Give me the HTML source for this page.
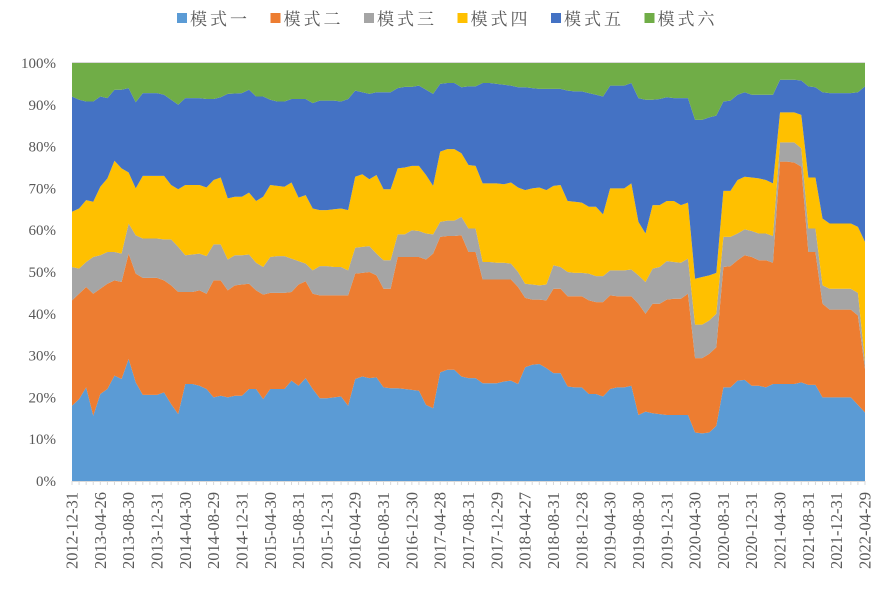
<!DOCTYPE html>
<html><head><meta charset="utf-8">
<style>
html,body{margin:0;padding:0;background:#fff;}
svg text{font-family:"Liberation Serif","Noto Serif CJK SC",serif;fill:#595959;}
</style></head>
<body>
<svg id="chart" width="879" height="588" viewBox="0 0 879 588" xmlns="http://www.w3.org/2000/svg">
<g id="legend"></g>
<g id="areas"></g>
<g id="axes"></g>
</svg>
<script>
const seriesNames = ["模式一","模式二","模式三","模式四","模式五","模式六"];
const seriesColors = ["#5B9BD5","#ED7D31","#A5A5A5","#FFC000","#4472C4","#70AD47"];
const tickLabels = ["2012-12-31","2013-04-26","2013-08-30","2013-12-31","2014-04-30","2014-08-29","2014-12-31","2015-04-30","2015-08-31","2015-12-31","2016-04-29","2016-08-31","2016-12-30","2017-04-28","2017-08-31","2017-12-29","2018-04-27","2018-08-31","2018-12-28","2019-04-30","2019-08-30","2019-12-31","2020-04-30","2020-08-31","2020-12-31","2021-04-30","2021-08-31","2021-12-31","2022-04-29"];
const yTicks = ["0%","10%","20%","30%","40%","50%","60%","70%","80%","90%","100%"];
const mode1 = [18,19.6,22.4,15.6,20.8,22,25.2,24.4,29.2,23.6,20.6,20.6,20.6,21.2,18.4,16,23.2,23.2,22.8,22,20,20.4,20,20.4,20.4,22,22,19.6,22,22,22,24,22.8,24.6,22,19.8,19.8,20,20.2,
18,24.4,25,24.6,24.8,22.4,22.2,22.2,22,21.8,21.6,18.2,17.4,26,26.6,26.6,25,24.6,24.6,23.4,23.4,23.4,23.8,24,23.2,27.2,27.8,28,27,25.8,25.8,22.6,22.4,22.4,20.8,20.8,20.2,22,
22.4,22.4,22.8,15.8,16.6,16.2,16,15.8,15.8,15.8,15.8,11.6,11.4,11.6,13.2,22.4,22.4,24,24.2,22.8,22.8,22.4,23.2,23.2,23.2,23.2,23.6,23,23,20,20,20,20,20,18.2,16.4];
const mode2 = [25.2,25.2,24,29.2,25.2,25.2,22.8,23.2,25.2,26,28,28,28,26.8,28.4,29.2,22,22,22.8,22.8,28,27.6,25.6,26.4,26.6,25.2,23.6,25,23,23,23,21.2,24.2,23.2,22.8,24.6,24.6,24.4,24.2,
26.4,25.2,24.8,25.4,24.4,23.6,23.8,31.4,31.6,31.8,32,34.8,37,32.4,32,32,33.8,30.2,30.2,24.8,24.8,24.8,24.4,24.2,23.2,16.6,15.6,15.4,16.2,20.2,20.2,21.6,21.8,21.8,22.4,22,22.6,22.4,
21.8,21.8,21.4,26.6,23.4,26.2,26.4,27.6,27.8,27.8,29,17.8,18,18.8,18.8,28.8,29,28.8,29.8,30.8,30,30.4,29,53.2,53.2,53,51.6,31.8,31.8,22.4,21,21,21,21,21.4,10.4];
const mode3 = [8,6,6,8.8,8,7.6,6.8,6.8,7.2,9.2,9.4,9.4,9.4,9.8,11,10.8,8.8,9,8.8,9,8.6,8.6,7.4,7.2,7,7,6.6,6.6,8.6,8.8,8.8,8,5.6,4.2,5.6,7,7,6.8,6.8,
6,6.2,6.2,6.2,5.2,6.8,6.8,5.4,5.4,6.4,6.2,6.2,4.6,3.6,3.7,3.7,4.4,5.6,5.6,4.2,4.2,4,4,3.8,3.6,3.4,3.6,3.4,3.8,5.6,5.2,5.8,5.6,5.6,6.4,6.2,6.2,6,
6.2,6.2,6.4,6.8,7.6,8.4,8.8,9.2,8.8,8.6,8.4,8,8,8,8,7.2,7,6.4,6.2,6.2,6.4,6.4,6.4,4.6,4.6,4.8,4.4,5.6,5.6,4.4,5,5,5,5,5.4,1.6];
const mode4 = [13.2,14.4,14.8,13.2,16.4,17.6,21.8,20.4,12.2,11.2,15,15,15,15.2,13,13.8,16.8,16.6,16.4,16.4,15.4,16,14.6,14,14,14.8,14.8,16.8,17.2,16.8,16.6,18.2,15.2,16.4,14.8,13.4,13.4,13.8,14,
14.4,17,17.4,16,18.8,17,17,15.8,16,15.4,15.6,14,11.6,16.8,17.1,17.1,15.2,15.2,15,18.8,18.8,19,18.8,19.4,20.2,22.4,23,23.4,22.6,19,19.6,17,17,16.8,16,16.6,14.8,19.6,
19.6,19.6,20.6,12.8,11.6,15.2,14.8,14.4,14.6,13.8,13.4,11,11.4,10.8,9.8,11,11,12.8,12.6,12.8,13.2,12.8,12.6,7.2,7.2,7.2,8,12.2,12.2,16,15.6,15.6,15.6,15.6,15.8,28.8];
const mode5 = [27.6,26,23.6,24,21.6,19.2,17,18.8,20.2,20.6,19.8,19.8,19.8,19.4,20.4,20.2,20.8,20.8,20.8,21.2,19.4,19.2,25,24.7,24.8,24.6,25,24,20.4,20.2,20.4,20,23.6,23,25.2,26.2,26.2,26,25.6,
26.6,20.6,19.6,20.4,19.8,23.2,23.2,19.2,19.3,18.9,19.2,20.4,22,16.2,15.8,15.8,15.8,18.8,19,24,24,23.8,23.8,23.2,24,24.6,24,23.6,24.2,23.2,23,26.4,26.4,26.6,27.2,26.8,28.2,24.6,
24.6,24.6,24,29.6,32,25.2,25.4,24.8,24.6,25.6,25,38,37.6,37.8,37.6,21.4,21.6,20.4,20.2,19.8,20,20.4,21.2,7.8,7.8,7.8,8.2,21.8,21.6,30.2,31.2,31.2,31.2,31.2,32.2,37.2];
const mode6 = [8,8.8,9.2,9.2,8,8.4,6.4,6.4,6,9.4,7.2,7.2,7.2,7.6,8.8,10,8.4,8.4,8.4,8.6,8.6,8.2,7.4,7.3,7.2,6.4,8,8,8.8,9.2,9.2,8.6,8.6,8.6,9.6,9,9,9,9.2,
8.6,6.6,7,7.4,7,7,7,6,5.7,5.7,5.4,6.4,7.4,5,4.8,4.8,5.8,5.6,5.6,4.8,4.8,5,5.2,5.4,5.8,5.8,6,6.2,6.2,6.2,6.2,6.6,6.8,6.8,7.2,7.6,8,5.4,
5.4,5.4,4.8,8.4,8.8,8.8,8.6,8.2,8.4,8.4,8.4,13.6,13.6,13,12.6,9.2,9,7.6,7,7.6,7.6,7.6,7.6,4,4,4,4.2,5.6,5.8,7,7.2,7.2,7.2,7.2,7,5.6];
const tickStep = 4;

const NS = "http://www.w3.org/2000/svg";
const L = 72, R = 865, T = 63, B = 481;
const series = [mode1, mode2, mode3, mode4, mode5, mode6];
const n = mode1.length;
function xPos(i){ return L + (R - L) * i / (n - 1); }
function yPos(v){ return B - (B - T) * v / 100; }
function mk(tag, attrs){ const e = document.createElementNS(NS, tag); for (const k in attrs) e.setAttribute(k, attrs[k]); return e; }

const areas = document.getElementById('areas');
const axes = document.getElementById('axes');
const legend = document.getElementById('legend');

const cum = [];
let base = new Array(n).fill(0);
for (let s = 0; s < series.length; s++) {
  const top = [];
  for (let i = 0; i < n; i++) {
    let tot = 0; for (let k = 0; k < series.length; k++) tot += series[k][i];
    top.push(base[i] + series[s][i] / tot * 100);
  }
  cum.push({ lo: base, hi: top });
  base = top;
}
for (let s = 0; s < series.length; s++) {
  let d = "";
  for (let i = 0; i < n; i++) d += (i ? "L" : "M") + xPos(i).toFixed(2) + "," + yPos(cum[s].hi[i]).toFixed(2);
  for (let i = n - 1; i >= 0; i--) d += "L" + xPos(i).toFixed(2) + "," + yPos(cum[s].lo[i]).toFixed(2);
  d += "Z";
  const p = mk('path', { d: d, fill: seriesColors[s] });
  
  
  areas.appendChild(p);
}
const tb = mk('line', { x1: L, x2: R, y1: T - 0.5, y2: T - 0.5, stroke: '#d9d9d9', 'stroke-width': 1 });


axes.appendChild(tb);
const xa = mk('line', { x1: L, x2: R, y1: B + 0.5, y2: B + 0.5, stroke: '#d9d9d9', 'stroke-width': 1 });


axes.appendChild(xa);
for (let i = 0; i < n; i++) {
  const t = mk('line', { x1: xPos(i), x2: xPos(i), y1: B, y2: B + 4, stroke: '#d9d9d9', 'stroke-width': 1 });
  
  
  axes.appendChild(t);
}
for (let k = 0; k < yTicks.length; k++) {
  const t = mk('text', { x: 56, y: yPos(k * 10) + 5, 'text-anchor': 'end', 'font-size': 15 });
  t.textContent = yTicks[k];
  
  
  axes.appendChild(t);
}
for (let k = 0; k < tickLabels.length; k++) {
  const i = k * tickStep;
  const x = xPos(i) + 5.5;
  const t = mk('text', { x: x, y: 492, 'text-anchor': 'end', 'font-size': 16.5, transform: 'rotate(-90 ' + x + ' 492)' });
  t.textContent = tickLabels[k];
  
  
  axes.appendChild(t);
}
for (let s = 0; s < seriesNames.length; s++) {
  const lx = 177 + s * 93.5;
  const g = mk('g', {});
  
  
  g.appendChild(mk('rect', { x: lx, y: 13, width: 10, height: 10, fill: seriesColors[s] }));
  const t = mk('text', { x: lx + 13, y: 25, 'font-size': 17, 'letter-spacing': 3 });
  t.textContent = seriesNames[s];
  g.appendChild(t);
  legend.appendChild(g);
}
</script>
</body></html>
